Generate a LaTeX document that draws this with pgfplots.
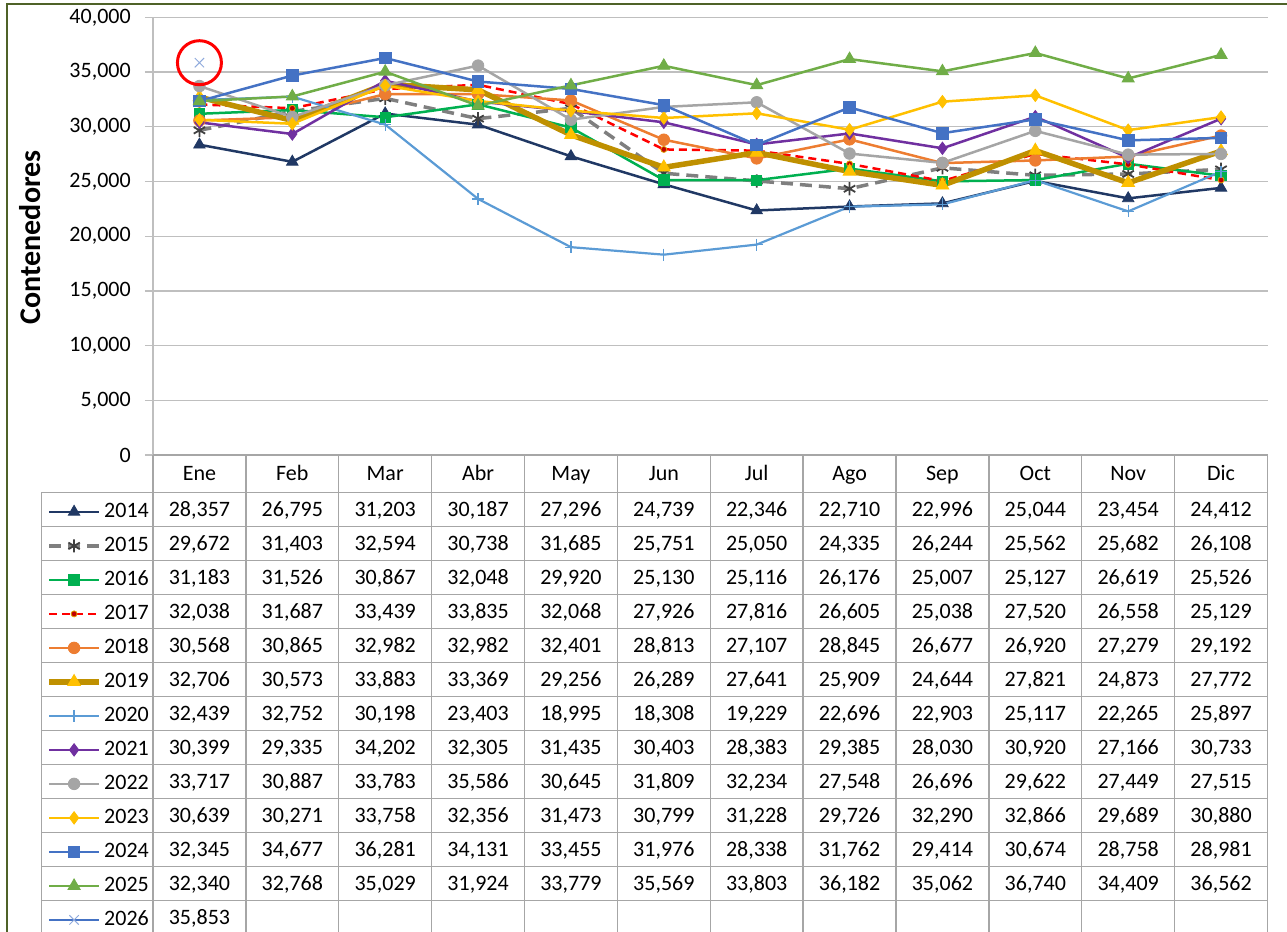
\documentclass[border=0pt]{standalone}
\usepackage{fontspec}
\setmainfont{Carlito}
\usepackage{pgfplots}
\usepackage{pgfplotstable}
\pgfplotsset{compat=1.18}

\definecolor{c14}{HTML}{203864}
\definecolor{c15}{HTML}{7F7F7F}
\definecolor{c15m}{HTML}{404040}
\definecolor{c16}{HTML}{00B050}
\definecolor{c17}{HTML}{FF0000}
\definecolor{c17m}{HTML}{C00000}
\definecolor{c17b}{HTML}{E0A000}
\definecolor{c18}{HTML}{ED7D31}
\definecolor{c19}{HTML}{BF9000}
\definecolor{c19m}{HTML}{FFC000}
\definecolor{c20}{HTML}{5B9BD5}
\definecolor{c21}{HTML}{7030A0}
\definecolor{c22}{HTML}{A5A5A5}
\definecolor{c23}{HTML}{FFC000}
\definecolor{c24}{HTML}{4472C4}
\definecolor{c25}{HTML}{70AD47}
\definecolor{c26m}{HTML}{8FAADC}
\definecolor{framec}{HTML}{4F6228}
\definecolor{gridc}{HTML}{BFBFBF}
\definecolor{tabc}{HTML}{A6A6A6}

\pgfplotstableread{
m y2014 y2015 y2016 y2017 y2018 y2019 y2020 y2021 y2022 y2023 y2024 y2025 y2026
0 28357 29672 31183 32038 30568 32706 32439 30399 33717 30639 32345 32340 35853
1 26795 31403 31526 31687 30865 30573 32752 29335 30887 30271 34677 32768 nan
2 31203 32594 30867 33439 32982 33883 30198 34202 33783 33758 36281 35029 nan
3 30187 30738 32048 33835 32982 33369 23403 32305 35586 32356 34131 31924 nan
4 27296 31685 29920 32068 32401 29256 18995 31435 30645 31473 33455 33779 nan
5 24739 25751 25130 27926 28813 26289 18308 30403 31809 30799 31976 35569 nan
6 22346 25050 25116 27816 27107 27641 19229 28383 32234 31228 28338 33803 nan
7 22710 24335 26176 26605 28845 25909 22696 29385 27548 29726 31762 36182 nan
8 22996 26244 25007 25038 26677 24644 22903 28030 26696 32290 29414 35062 nan
9 25044 25562 25127 27520 26920 27821 25117 30920 29622 32866 30674 36740 nan
10 23454 25682 26619 26558 27279 24873 22265 27166 27449 29689 28758 34409 nan
11 24412 26108 25526 25129 29192 27772 25897 30733 27515 30880 28981 36562 nan
}\data

\begin{document}
\begin{tikzpicture}[font=\fontsize{11}{13}\selectfont]
\useasboundingbox (0pt,0pt) rectangle (643.5pt,-466pt);
\begin{axis}[
  at={(76.5pt,-227.5pt)}, anchor=south west,
  scale only axis, width=557.25pt, height=218.85pt,
  xmin=-0.5, xmax=11.5, ymin=0, ymax=40000,
  xtick=\empty,
  ytick={0,5000,...,40000},
  axis lines=left, axis line style={-, draw=gridc, line width=0.65pt},
  tick align=outside, major tick length=4pt,
  ytick style={draw=gridc, line width=0.65pt},
  ymajorgrids, grid style={draw=gridc, line width=0.65pt},
  yticklabel style={font=\fontsize{11}{13}\selectfont, xshift=-3.6pt, /pgf/number format/1000 sep={,}},
  /pgf/number format/assume math mode=true,
  scaled y ticks=false,
  legend style={at={(axis description cs:-0.0957,-0.0911)}, anchor=north west,
    draw=none, fill=none, inner sep=0pt, outer sep=0pt, row sep=0pt, column sep=1.2pt,
    font=\fontsize{11}{13}\selectfont,
    nodes={inner sep=0pt, outer sep=0pt, minimum height=17pt}},
  legend cell align=left,
  legend image code/.code={\draw[mark repeat=2,mark phase=2] plot coordinates {(0pt,0pt) (12.5pt,0pt) (25pt,0pt)};},
]
\addplot[color=c14, line width=1.25pt, mark=triangle*, mark size=3.3pt, mark options={solid, fill=c14, line width=0.4pt}] table[x=m,y=y2014]{\data};
\addlegendentry{2014}
\addplot[color=c15, line width=1.75pt, dash pattern=on 6pt off 3.5pt, mark=asterisk, mark size=3.3pt, mark options={solid, draw=c15m, line width=0.9pt}] table[x=m,y=y2015]{\data};
\addlegendentry{2015}
\addplot[color=c16, line width=1.25pt, mark=square*, mark size=2.6pt, mark options={solid, fill=c16, line width=0.4pt}] table[x=m,y=y2016]{\data};
\addlegendentry{2016}
\addplot[color=c17, line width=1.25pt, dash pattern=on 4pt off 2.5pt, mark=*, mark size=1.5pt, mark options={solid, fill=c17m, draw=c17b, line width=0.4pt}] table[x=m,y=y2017]{\data};
\addlegendentry{2017}
\addplot[color=c18, line width=1.25pt, mark=*, mark size=2.9pt, mark options={solid, fill=c18, line width=0.4pt}] table[x=m,y=y2018]{\data};
\addlegendentry{2018}
\addplot[color=c19, line width=2.75pt, mark=triangle*, mark size=3.7pt, mark options={solid, fill=c19m, draw=c19m, line width=0.4pt}] table[x=m,y=y2019]{\data};
\addlegendentry{2019}
\addplot[color=c20, line width=1.1pt, mark=+, mark size=3pt, mark options={solid, line width=0.6pt}] table[x=m,y=y2020]{\data};
\addlegendentry{2020}
\addplot[color=c21, line width=1.25pt, mark=diamond*, mark size=3.1pt, mark options={solid, fill=c21, line width=0.4pt}] table[x=m,y=y2021]{\data};
\addlegendentry{2021}
\addplot[color=c22, line width=1.25pt, mark=*, mark size=2.9pt, mark options={solid, fill=c22, line width=0.4pt}] table[x=m,y=y2022]{\data};
\addlegendentry{2022}
\addplot[color=c23, line width=1.25pt, mark=diamond*, mark size=3.1pt, mark options={solid, fill=c23, line width=0.4pt}] table[x=m,y=y2023]{\data};
\addlegendentry{2023}
\addplot[color=c24, line width=1.25pt, mark=square*, mark size=2.9pt, mark options={solid, fill=c24, line width=0.4pt}] table[x=m,y=y2024]{\data};
\addlegendentry{2024}
\addplot[color=c25, line width=1.25pt, mark=triangle*, mark size=3.5pt, mark options={solid, fill=c25, line width=0.4pt}] table[x=m,y=y2025]{\data};
\addlegendentry{2025}
\addplot[color=c24, line width=1.25pt, mark=x, mark size=3.3pt, mark options={solid, draw=c26m, line width=0.5pt}] table[x=m,y=y2026]{\data};
\addlegendentry{2026}
\addplot[forget plot, only marks, mark=o, mark size=11pt, mark options={draw=red, line width=1.5pt}] coordinates {(0,35853)};
\end{axis}
\begin{scope}[x=0.5pt,y=-0.5pt]
  \draw[tabc, line width=0.65pt] (41.7,492.3) -- (41.7,932);
  \foreach \j in {0,...,12} \draw[tabc, line width=0.65pt] ({153+92.875*\j},455) -- ({153+92.875*\j},932);
  \foreach \k in {0,...,12} \draw[tabc, line width=0.65pt] (41.7,{492.3+34*\k}) -- (1267.5,{492.3+34*\k});
  \draw[tabc, line width=0.65pt] (153,455) -- (1267.5,455);
  \foreach \mname [count=\j from 0] in {Ene,Feb,Mar,Abr,May,Jun,Jul,Ago,Sep,Oct,Nov,Dic}
    \node[anchor=base, inner sep=0pt] at ({153+92.875*(\j+0.5)},480.7) {\mname};
  \foreach \yr/\rmax [count=\k from 0] in {2014/11,2015/11,2016/11,2017/11,2018/11,2019/11,2020/11,2021/11,2022/11,2023/11,2024/11,2025/11,2026/0} {
    \foreach \r in {0,...,\rmax} {
      \pgfplotstablegetelem{\r}{y\yr}\of\data
      \node[anchor=base, inner sep=0pt] at ({153+92.875*(\r+0.5)},{516.7+34*\k}) {\pgfmathprintnumber[fixed,precision=0,1000 sep={,},assume math mode=true]{\pgfplotsretval}};
    }
  }
  \node[rotate=90, font=\fontsize{15}{18}\selectfont\bfseries] at (30.5,237.4) {Contenedores};
  \draw[framec, line width=0.6pt] (7,932) -- (7,4) -- (1287,4);
\end{scope}
\end{tikzpicture}
\end{document}
